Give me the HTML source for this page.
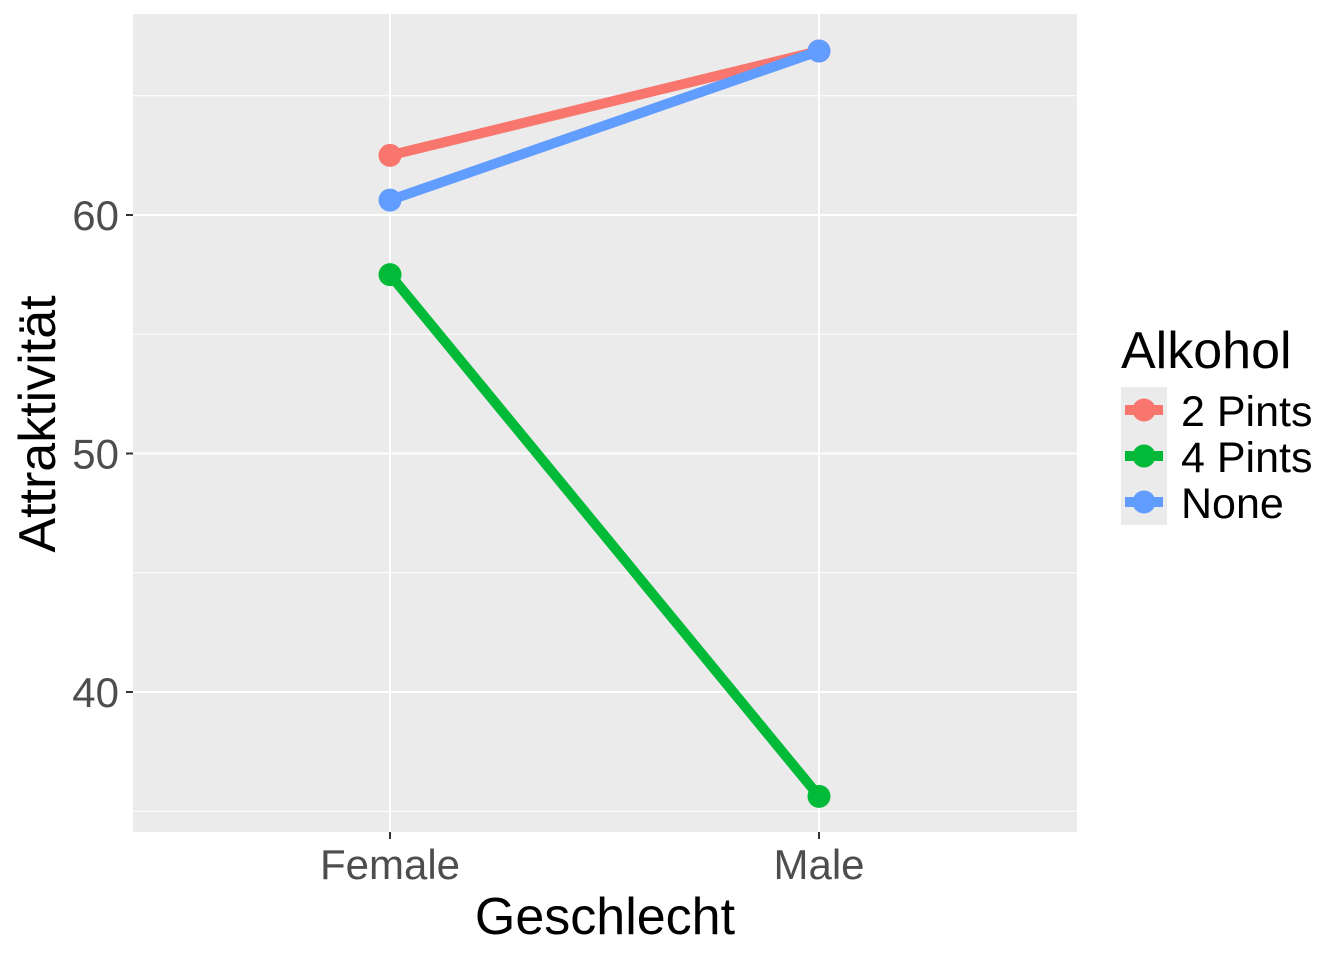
<!DOCTYPE html>
<html><head><meta charset="utf-8"><style>
body{margin:0;background:#fff}
svg text{font-family:"Liberation Sans",Arial,sans-serif}
</style></head><body>
<svg width="1344" height="960" id="c">
<rect x="133" y="14" width="944" height="818" fill="#EBEBEB"/>
<g id="grid"></g><g id="series"></g><g id="axes"></g>
<text x="605" y="934" font-size="52" text-anchor="middle" fill="#000">Geschlecht</text>
<text transform="translate(55,424) rotate(-90)" font-size="52" text-anchor="middle" fill="#000">Attraktivität</text>
<text x="1121" y="368" font-size="52" fill="#000">Alkohol</text>
<g id="legend"></g>
</svg>
<script>
const categories=["Female","Male"];
const seriesNames=["2 Pints","4 Pints","None"];
const pints2=[62.5,66.875];
const pints4=[57.5,35.625];
const none=[60.625,66.875];
const yTicks=[40,50,60];
const yMinor=[35,45,55,65];
const colors=["#F8766D","#00BA38","#619CFF"];
const seriesVals=[pints2,pints4,none];
const NS="http://www.w3.org/2000/svg";
const y=v=>215-(v-60)*23.85;
const x=i=>390+i*429;
function mk(t,a,p){const e=document.createElementNS(NS,t);for(const k in a)e.setAttribute(k,a[k]);p.appendChild(e);return e;}
const grid=document.getElementById('grid'),axes=document.getElementById('axes'),ser=document.getElementById('series'),leg=document.getElementById('legend');
yMinor.forEach(v=>{const l=mk('line',{x1:133,x2:1077,y1:y(v),y2:y(v),stroke:'#fff','stroke-width':1},grid);

});
yTicks.forEach(v=>{const l=mk('line',{x1:133,x2:1077,y1:y(v),y2:y(v),stroke:'#fff','stroke-width':2},grid);


const tk=mk('line',{x1:126,x2:133,y1:y(v),y2:y(v),stroke:'#333','stroke-width':2},axes);


const t=mk('text',{x:119,y:y(v)+15,'font-size':42,'text-anchor':'end',fill:'#4D4D4D'},axes);t.textContent=v;

});
categories.forEach((c,i)=>{const l=mk('line',{x1:x(i),x2:x(i),y1:14,y2:832,stroke:'#fff','stroke-width':2},grid);


const tk=mk('line',{x1:x(i),x2:x(i),y1:832,y2:839,stroke:'#333','stroke-width':2},axes);


const t=mk('text',{x:x(i),y:879,'font-size':42,'text-anchor':'middle',fill:'#4D4D4D'},axes);t.textContent=c;

});
seriesVals.forEach((vals,s)=>{const g=mk('g',{},ser);


const ln=mk('polyline',{points:vals.map((v,i)=>x(i)+','+y(v)).join(' '),fill:'none',stroke:colors[s],'stroke-width':10},g);


vals.forEach((v,i)=>{const p=mk('circle',{cx:x(i),cy:y(v),r:11.5,fill:colors[s]},g);

});
const ky=410+s*46;
const bg=mk('rect',{x:1121,y:ky-23,width:46,height:46,fill:'#EBEBEB'},leg);


mk('line',{x1:1125,x2:1163,y1:ky,y2:ky,stroke:colors[s],'stroke-width':10},leg);
mk('circle',{cx:1144,cy:ky,r:11.5,fill:colors[s]},leg);
const t=mk('text',{x:1181,y:ky+16,'font-size':43,fill:'#000'},leg);t.textContent=seriesNames[s];

});
</script></body></html>
